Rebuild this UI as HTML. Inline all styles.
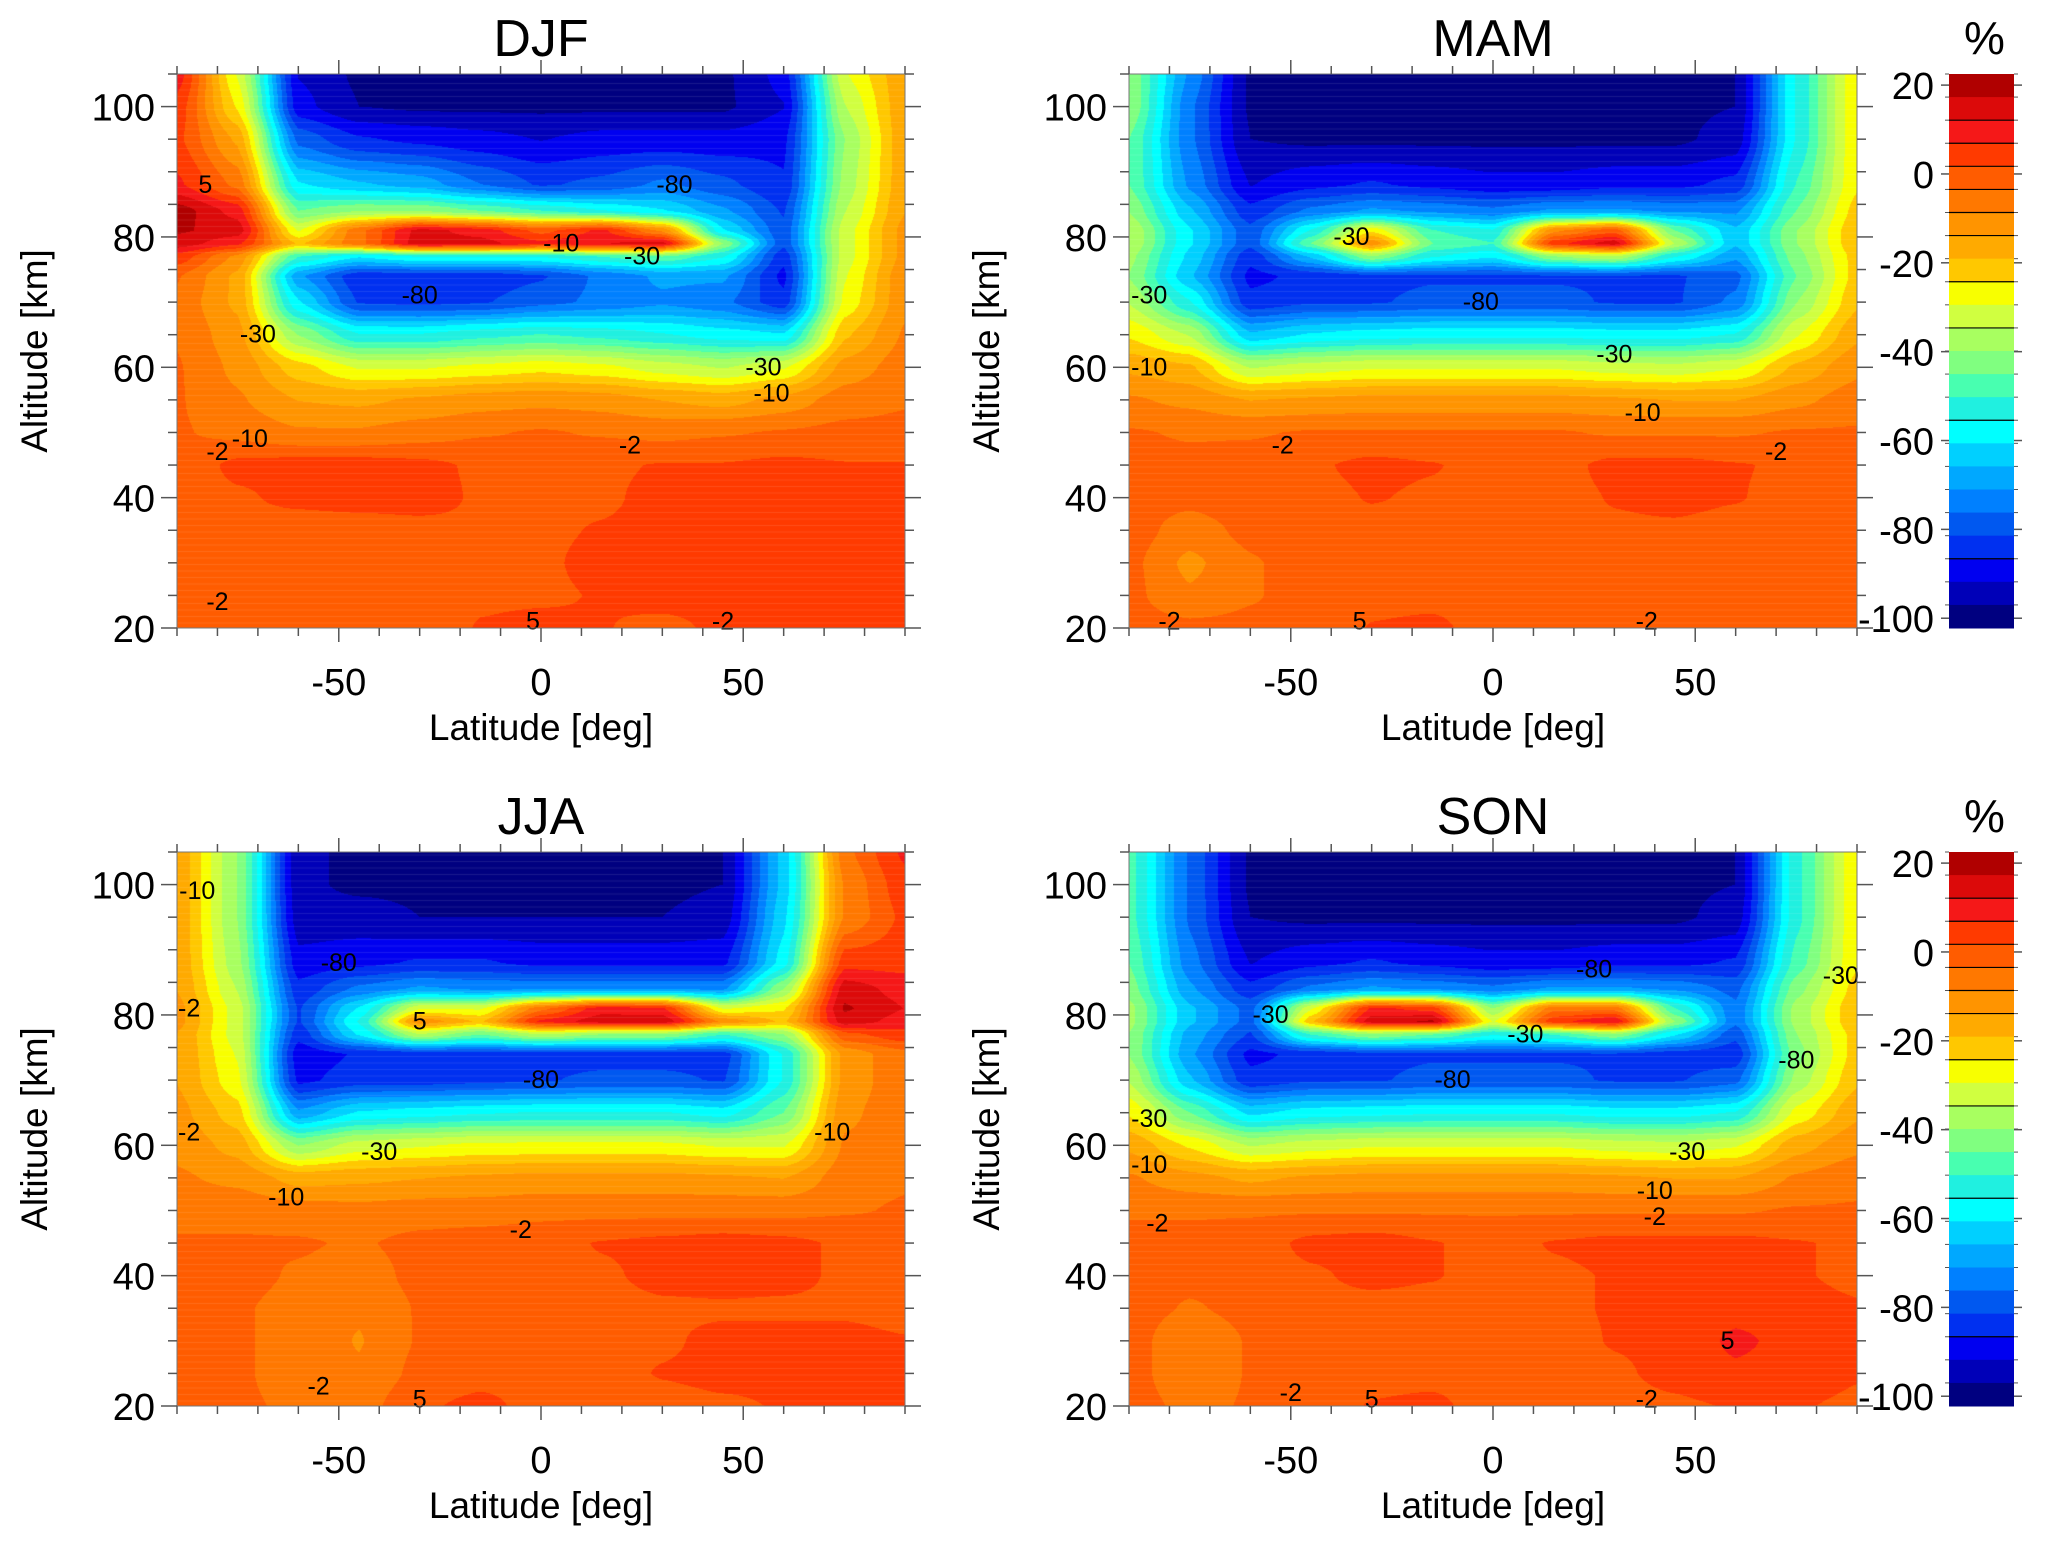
<!DOCTYPE html>
<html><head><meta charset="utf-8">
<style>
html,body{margin:0;padding:0;background:#fff;}
#root{position:relative;width:2067px;height:1541px;overflow:hidden;font-family:"Liberation Sans",Arial,sans-serif;}
canvas{position:absolute;}
svg{position:absolute;left:0;top:0;}
</style></head>
<body>
<div id="root">
<svg id="ov" width="2067" height="1541"></svg>
</div>
<script>
// ---- data ----
const lats = [-90,-75,-60,-45,-30,-15,0,15,30,45,60,75,90];
const alts = [20,25,30,35,40,45,50,55,60,65,70,74,77,79,81,84,88,95,100,105];
const seasons = ["DJF","MAM","JJA","SON"];
const djf = [
[0,0,0,-1,-1,2,3,2,0,3,3,3,3],
[0,-1,-2,-2,-1,1,1,2,4,4,4,4,3],
[0,0,-1,-1,0,0,1,3,4,4,4,4,3],
[0,0,-1,-1,0,1,1,2,3,3,4,4,3],
[-1,1,3,4,4,1,0,1,3,3,4,3,2],
[-2,3,4,4,3,1,-1,1,2,2,3,2,2],
[-3,-5,-8,-8,-6,-4,-3,-4,-5,-4,-3,-2,-2],
[-3,-8,-14,-15,-13,-11,-10,-11,-14,-16,-12,-6,-4],
[-3,-10,-22,-30,-30,-28,-26,-28,-32,-35,-30,-12,-6],
[-4,-12,-40,-55,-55,-52,-50,-52,-55,-58,-60,-20,-8],
[-5,-15,-60,-82,-83,-82,-78,-75,-72,-75,-85,-28,-10],
[-3,-15,-70,-85,-85,-85,-82,-75,-70,-70,-88,-30,-10],
[5,-10,-50,-60,-55,-55,-55,-50,-45,-55,-85,-32,-12],
[15,8,-20,-5,15,14,8,12,14,-40,-80,-32,-12],
[18,15,-30,-5,14,10,0,8,-10,-60,-80,-32,-12],
[20,10,-45,-40,-40,-45,-50,-55,-60,-70,-82,-35,-14],
[8,-5,-60,-65,-68,-76,-82,-80,-75,-80,-86,-38,-15],
[3,-15,-78,-86,-88,-90,-92,-90,-90,-90,-88,-40,-15],
[5,-25,-90,-97,-98,-98,-98,-98,-98,-98,-92,-35,-15],
[10,-30,-92,-98,-98,-98,-98,-98,-98,-98,-90,-30,-15]];
const mam = [
[-1,-2,-2,-2,2,3,-1,-1,-1,-1,-1,-2,-2],
[-2,-8,-4,-1,0,0,-1,-1,1,1,0,-1,-1],
[-2,-10,-4,-1,0,0,-1,-1,0,0,0,-1,-1],
[-1,-6,-2,0,0,0,0,0,1,1,0,0,0],
[-1,-2,0,0,2,1,0,0,2,3,2,0,0],
[-1,-2,-1,1,3,2,0,0,3,3,2,1,0],
[-3,-4,-4,-3,-3,-3,-3,-3,-4,-4,-4,-3,-3],
[-8,-10,-14,-13,-12,-12,-12,-12,-13,-14,-14,-10,-6],
[-15,-18,-35,-32,-30,-30,-30,-30,-32,-33,-30,-18,-10],
[-25,-35,-65,-60,-58,-57,-57,-57,-58,-58,-55,-30,-15],
[-35,-55,-85,-82,-82,-80,-80,-80,-82,-82,-75,-40,-20],
[-40,-65,-88,-85,-83,-82,-82,-82,-82,-82,-78,-45,-22],
[-38,-62,-85,-65,-40,-55,-60,-40,-35,-55,-70,-42,-22],
[-35,-60,-80,-45,-10,-45,-50,5,15,-35,-65,-40,-20],
[-35,-60,-80,-55,-25,-50,-55,-10,0,-45,-65,-40,-20],
[-40,-65,-85,-75,-70,-72,-75,-70,-70,-72,-72,-45,-22],
[-45,-72,-92,-88,-86,-88,-90,-90,-88,-88,-85,-50,-25],
[-45,-75,-97,-98,-98,-98,-98,-98,-98,-98,-95,-55,-25],
[-40,-75,-98,-98,-98,-98,-98,-98,-98,-98,-97,-55,-25],
[-40,-72,-98,-98,-98,-98,-98,-98,-98,-98,-97,-55,-25]];
const jja = [
[-2,-3,-4,-6,1,3,0,-1,0,1,2,2,2],
[-2,-3,-5,-8,-2,0,0,0,2,3,3,3,2],
[-2,-3,-5,-9,-3,-1,0,0,1,3,3,3,2],
[-2,-3,-5,-8,-3,-1,0,0,1,1,1,1,0],
[-3,-2,-4,-6,-2,-1,0,1,3,4,3,1,0],
[-3,-3,-3,-4,-2,-1,0,2,3,4,3,1,0],
[-5,-5,-6,-7,-6,-6,-5,-5,-5,-5,-5,-4,-3],
[-8,-10,-16,-15,-14,-13,-12,-12,-12,-13,-14,-6,-4],
[-10,-16,-40,-32,-30,-28,-28,-28,-28,-30,-30,-8,-5],
[-12,-22,-70,-60,-58,-56,-55,-55,-55,-58,-45,-10,-5],
[-14,-28,-88,-84,-84,-83,-82,-80,-80,-82,-55,-12,-5],
[-14,-30,-90,-86,-85,-84,-84,-84,-84,-84,-55,-12,-5],
[-14,-32,-85,-60,-35,-45,-35,-40,-40,-50,-40,0,5],
[-12,-32,-82,-55,-10,-20,8,15,16,-10,-20,15,10],
[-12,-32,-82,-60,-30,-30,-5,10,8,-30,-25,18,12],
[-14,-35,-85,-75,-70,-72,-72,-72,-72,-72,-40,15,10],
[-15,-38,-90,-88,-86,-86,-88,-88,-88,-88,-58,5,5],
[-15,-40,-95,-95,-97,-97,-97,-97,-97,-95,-62,-8,3],
[-15,-40,-96,-98,-98,-98,-98,-98,-98,-97,-64,-8,5],
[-15,-40,-96,-98,-98,-98,-98,-98,-98,-97,-64,-5,8]];
const son = [
[-1,-5,-3,-1,2,3,-1,-1,0,1,2,2,1],
[-1,-8,-3,-1,0,0,-1,-1,1,3,6,4,2],
[-1,-8,-3,-1,0,0,-1,0,2,3,8,5,2],
[-1,-4,-2,0,0,0,0,1,2,3,5,3,2],
[-1,-2,-1,1,3,2,0,1,2,3,3,2,1],
[-2,-2,-1,3,4,2,0,2,3,3,3,2,1],
[-4,-4,-4,-4,-4,-4,-4,-4,-4,-4,-4,-3,-3],
[-8,-12,-15,-13,-12,-12,-12,-12,-13,-14,-14,-8,-5],
[-15,-25,-35,-32,-30,-30,-30,-30,-32,-33,-30,-16,-10],
[-25,-45,-62,-58,-57,-56,-56,-56,-58,-58,-55,-28,-15],
[-35,-65,-85,-82,-82,-80,-80,-80,-82,-82,-78,-38,-20],
[-40,-70,-88,-85,-83,-82,-82,-82,-82,-84,-85,-42,-22],
[-40,-68,-82,-50,-40,-45,-55,-50,-40,-60,-80,-40,-22],
[-38,-65,-78,-20,15,18,-30,5,12,-40,-75,-38,-20],
[-38,-65,-78,-30,8,5,-40,-5,-5,-50,-75,-38,-20],
[-42,-70,-85,-75,-70,-72,-75,-70,-70,-72,-78,-42,-22],
[-45,-74,-92,-88,-86,-88,-90,-90,-88,-88,-86,-48,-25],
[-48,-77,-97,-98,-98,-98,-98,-98,-98,-98,-95,-52,-25],
[-48,-77,-98,-98,-98,-98,-98,-98,-98,-98,-97,-52,-25],
[-48,-77,-98,-98,-98,-98,-98,-98,-98,-98,-97,-52,-25]];
const xTicks = [-50,0,50];
const yTicks = [20,40,60,80,100];
const cbTicks = [20,0,-20,-40,-60,-80,-100];
const bandColors = ["#b00000","#dc0a0a","#f51818","#ff3a00","#ff5c00","#ff7800","#ff9400","#ffaa00","#ffc800","#f8ff00","#d0ff40","#a8ff60","#80ff80","#48ffb0","#20f0e0","#00ffff","#00d0ff","#00a8ff","#0080ff","#0058f0","#0030f0","#0000f0","#0000b8","#000080"];
const cbMax = 22.5, cbMin = -102.2;
const contourLabels = [
 [["-80",-30,71],["-10",5,79],["-30",25,77],["-30",-70,65],["-30",55,60],["-10",57,56],["-10",-72,49],["-2",22,48],["-2",-80,47],["-80",33,88],["5",-83,88],["-2",-80,24],["5",-2,21],["-2",45,21]],
 [["-80",-3,70],["-30",-35,80],["-30",30,62],["-10",37,53],["-2",-52,48],["-2",70,47],["-10",-85,60],["-30",-85,71],["-2",-80,21],["5",-33,21],["-2",38,21]],
 [["-80",0,70],["-80",-50,88],["-30",-40,59],["-10",-63,52],["-2",-5,47],["-2",-87,62],["-2",-87,81],["-10",-85,99],["5",-30,21],["-2",-55,23],["5",-30,79],["-10",72,62]],
 [["-80",-10,70],["-30",-55,80],["-30",8,77],["-80",25,87],["-30",48,59],["-10",40,53],["-2",40,49],["-30",-85,64],["-10",-85,57],["-2",-83,48],["-2",-50,22],["5",-30,21],["-2",38,21],["5",58,30],["-30",86,86],["-80",75,73]]
];
const fields = [djf, mam, jja, son];

// ---- layout ----
const W = 728, H = 554;
const panels = [{x0:177,y0:74},{x0:1129,y0:74},{x0:177,y0:852},{x0:1129,y0:852}];
const NS = "http://www.w3.org/2000/svg";
const ov = document.getElementById('ov');
const root = document.getElementById('root');
function el(tag, attrs, parent){const e=document.createElementNS(NS,tag);for(const k in attrs)e.setAttribute(k,attrs[k]);(parent||ov).appendChild(e);return e;}
function txt(s, attrs){const t=el('text',attrs);t.textContent=s;return t;}

function valueColor(v){
  const step=(cbMax-cbMin)/bandColors.length;
  let k=Math.floor((cbMax-v)/step);
  if(k<0)k=0; if(k>bandColors.length-1)k=bandColors.length-1;
  return bandColors[k];
}
function hex(c){return [parseInt(c.substr(1,2),16),parseInt(c.substr(3,2),16),parseInt(c.substr(5,2),16)];}
function sample(F, lat, alt){
  let i=0; while(i<lats.length-2 && lat>lats[i+1]) i++;
  let j=0; while(j<alts.length-2 && alt>alts[j+1]) j++;
  const tx=Math.min(1,Math.max(0,(lat-lats[i])/(lats[i+1]-lats[i])));
  const ty=Math.min(1,Math.max(0,(alt-alts[j])/(alts[j+1]-alts[j])));
  const sx=tx*tx*(3-2*tx)*0.5+tx*0.5, sy=ty*ty*(3-2*ty)*0.5+ty*0.5;
  const a=F[j][i],b=F[j][i+1],c=F[j+1][i],d=F[j+1][i+1];
  return (a*(1-sx)+b*sx)*(1-sy)+(c*(1-sx)+d*sx)*sy;
}

panels.forEach((p,pi)=>{
  const xS = lat => p.x0 + (lat+90)/180*W;
  const yS = alt => p.y0 + H - (alt-20)/85*H;
  const F = fields[pi];
  const cv=document.createElement('canvas');
  cv.width=W; cv.height=H; cv.style.left=p.x0+'px'; cv.style.top=p.y0+'px';
  
  
  root.insertBefore(cv, ov);
  const ctx=cv.getContext('2d'); const img=ctx.createImageData(W,H);
  const cache={};
  for(let py=0;py<H;py++){
    const alt=20+(H-py-0.5)/H*85;
    for(let px=0;px<W;px++){
      const lat=-90+(px+0.5)/W*180;
      const c=valueColor(sample(F,lat,alt));
      const rgb=cache[c]||(cache[c]=hex(c));
      const o=(py*W+px)*4; img.data[o]=rgb[0];img.data[o+1]=rgb[1];img.data[o+2]=rgb[2];img.data[o+3]=255;
    }
  }
  ctx.putImageData(img,0,0);
  ctx.strokeStyle='rgba(255,255,255,0.10)';ctx.lineWidth=1;
  for(let y=3;y<H;y+=6.5){ctx.beginPath();ctx.moveTo(0,y);ctx.lineTo(W,y);ctx.stroke();}

  const g=el('g',{});
  
  
  contourLabels[pi].forEach(l=>{
    const t=el('text',{x:xS(l[1]),y:yS(l[2])+8,'font-size':25,'text-anchor':'middle',fill:'#000'},g);
    t.textContent=l[0];
    
    
  });
  el('rect',{x:p.x0,y:p.y0,width:W,height:H,fill:'none',stroke:'#777','stroke-width':1},g);
  for(let lat=-90;lat<=90;lat+=10){
    const major = lat%50===0;
    const len = major?14:8;
    el('line',{x1:xS(lat),x2:xS(lat),y1:p.y0+H,y2:p.y0+H+len,stroke:'#555','stroke-width':1.5},g);
    el('line',{x1:xS(lat),x2:xS(lat),y1:p.y0,y2:p.y0-len,stroke:'#555','stroke-width':1.5},g);
  }
  xTicks.forEach(v=>{
    const t=txt(String(v),{x:xS(v),y:p.y0+H+67,'font-size':38,'text-anchor':'middle',fill:'#000'});
    
    
  });
  for(let a=20;a<=105;a+=5){
    const major=a%20===0, len=major?16:9;
    el('line',{x1:p.x0-len,x2:p.x0,y1:yS(a),y2:yS(a),stroke:'#555','stroke-width':1.5},g);
    el('line',{x1:p.x0+W,x2:p.x0+W+len,y1:yS(a),y2:yS(a),stroke:'#555','stroke-width':1.5},g);
  }
  yTicks.forEach(v=>{
    const t=txt(String(v),{x:p.x0-22,y:yS(v)+14,'font-size':38,'text-anchor':'end',fill:'#000'});
    
    
  });
  const tt=txt(seasons[pi],{x:p.x0+W/2,y:p.y0-18,'font-size':52,'text-anchor':'middle',fill:'#000'});
  
  
  const xt=txt('Latitude [deg]',{x:p.x0+W/2,y:p.y0+H+112,'font-size':37,'text-anchor':'middle',fill:'#000'});
  
  
  const cy=p.y0+H/2, cx=p.x0-130;
  const yt=txt('Altitude [km]',{x:cx,y:cy,'font-size':37,'text-anchor':'middle',fill:'#000',transform:`rotate(-90 ${cx} ${cy})`});
  
  
});

[74,852].forEach((y0,ci)=>{
  const x0=1949, cw=65;
  const yC = v => y0 + (cbMax-v)/(cbMax-cbMin)*H;
  const g=el('g',{});
  
  
  const step=(cbMax-cbMin)/bandColors.length;
  bandColors.forEach((c,k)=>{
    const r=el('rect',{x:x0,y:yC(cbMax-k*step),width:cw,height:yC(cbMax-(k+1)*step)-yC(cbMax-k*step)+0.5,fill:c},g);
    
    
    el('line',{x1:x0-4,x2:x0,y1:yC(cbMax-k*step),y2:yC(cbMax-k*step),stroke:'#555'},g);
    el('line',{x1:x0+cw,x2:x0+cw+4,y1:yC(cbMax-k*step),y2:yC(cbMax-k*step),stroke:'#555'},g);
  });
  [2,3,4,5,6,7,9,11,15,21].forEach(k=>{
    el('line',{x1:x0,x2:x0+cw,y1:yC(cbMax-k*step),y2:yC(cbMax-k*step),stroke:'#000','stroke-width':1.2},g);
  });
  cbTicks.forEach(v=>{
    el('line',{x1:x0-8,x2:x0,y1:yC(v),y2:yC(v),stroke:'#555','stroke-width':1.5},g);
    el('line',{x1:x0+cw,x2:x0+cw+8,y1:yC(v),y2:yC(v),stroke:'#555','stroke-width':1.5},g);
    const t=txt(String(v),{x:x0-15,y:yC(v)+14,'font-size':38,'text-anchor':'end',fill:'#000'});
    
    
  });
  const u=txt('%',{x:x0+cw/2+3,y:y0-20,'font-size':46,'text-anchor':'middle',fill:'#000'});
  
  
});
</script>
</body></html>
